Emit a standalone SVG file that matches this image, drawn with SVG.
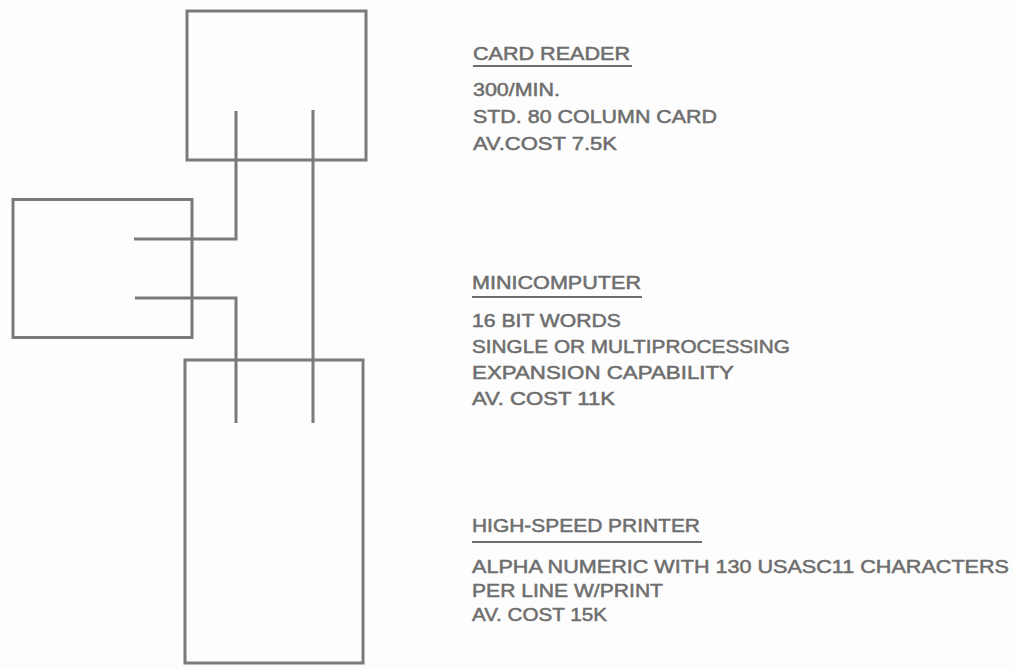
<svg xmlns="http://www.w3.org/2000/svg" width="1014" height="668" viewBox="0 0 1014 668">
<style>
.box{fill:none;stroke:#7a7a7a;stroke-width:3}
.wire{fill:none;stroke:#7a7a7a;stroke-width:3;stroke-linejoin:miter}
.t{font-family:"Liberation Sans",Arial,sans-serif;font-size:18px;fill:#6e6e6e;stroke:#6e6e6e;stroke-width:0.5}
.ul{stroke:#6e6e6e;stroke-width:2}
</style>
<rect width="1014" height="668" fill="#fdfdfd"/>
<g id="card-reader">
<rect class="box" x="187" y="11" width="179" height="149"/>
<text class="t" x="473" y="60" textLength="157" lengthAdjust="spacingAndGlyphs">CARD READER</text>
<line class="ul" x1="473" y1="66" x2="632" y2="66"/>
<text class="t" x="473" y="96" textLength="87" lengthAdjust="spacingAndGlyphs">300/MIN.</text>
<text class="t" x="473" y="123" textLength="244" lengthAdjust="spacingAndGlyphs">STD. 80 COLUMN CARD</text>
<text class="t" x="473" y="150" textLength="144" lengthAdjust="spacingAndGlyphs">AV.COST 7.5K</text>
</g>
<g id="minicomputer">
<rect class="box" x="13" y="199.5" width="179" height="138"/>
<text class="t" x="472" y="289" textLength="169" lengthAdjust="spacingAndGlyphs">MINICOMPUTER</text>
<line class="ul" x1="472" y1="297" x2="642" y2="297"/>
<text class="t" x="472" y="327" textLength="149" lengthAdjust="spacingAndGlyphs">16 BIT WORDS</text>
<text class="t" x="472" y="353" textLength="318" lengthAdjust="spacingAndGlyphs">SINGLE OR MULTIPROCESSING</text>
<text class="t" x="472" y="379" textLength="262" lengthAdjust="spacingAndGlyphs">EXPANSION CAPABILITY</text>
<text class="t" x="472" y="405" textLength="143" lengthAdjust="spacingAndGlyphs">AV. COST 11K</text>
</g>
<g id="printer">
<rect class="box" x="185" y="360" width="178" height="303"/>
<text class="t" x="472" y="532" textLength="228" lengthAdjust="spacingAndGlyphs">HIGH-SPEED PRINTER</text>
<line class="ul" x1="472" y1="542" x2="702" y2="542"/>
<text class="t" x="472" y="573" textLength="537" lengthAdjust="spacingAndGlyphs">ALPHA NUMERIC WITH 130 USASC11 CHARACTERS</text>
<text class="t" x="472" y="597" textLength="191" lengthAdjust="spacingAndGlyphs">PER LINE W/PRINT</text>
<text class="t" x="472" y="621" textLength="135" lengthAdjust="spacingAndGlyphs">AV. COST 15K</text>
</g>
<g id="connectors">
<polyline class="wire" points="236,111 236,239 134,239"/>
<polyline class="wire" points="313,110 313,423"/>
<polyline class="wire" points="135,298 236,298 236,423"/>
</g>
</svg>
